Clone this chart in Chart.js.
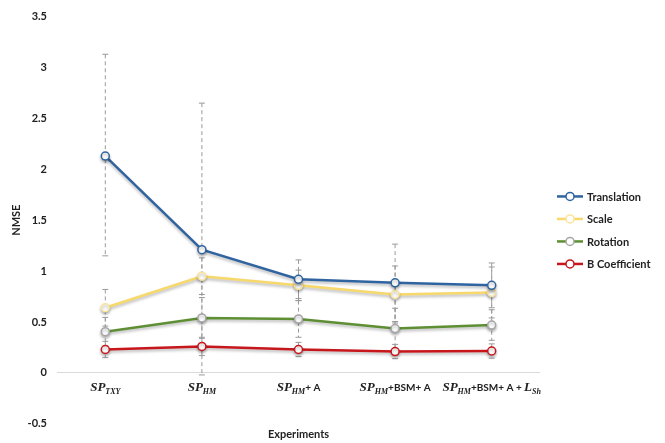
<!DOCTYPE html>
<html>
<head>
<meta charset="utf-8">
<script src="https://cdn.jsdelivr.net/npm/chart.js@4.4.0/dist/chart.umd.min.js"></script>
<style>
  html, body { margin: 0; padding: 0; background: #fff; }
  #wrap { width: 665px; height: 443px; }
</style>
</head>
<body>
<div id="wrap"><canvas id="chart"></canvas></div>
<script>
// categories (plain) and how each label is typeset: [text, kind]
// kind: m = math italic, s = math subscript, t = plain bold text
const categories = ['SP_TXY', 'SP_HM', 'SP_HM+ A', 'SP_HM+BSM+ A', 'SP_HM+BSM+ A + L_Sh'];
const categoryParts = [
    [['SP', 'm'], ['TXY', 's']],
    [['SP', 'm'], ['HM', 's']],
    [['SP', 'm'], ['HM', 's'], ['+ A', 't']],
    [['SP', 'm'], ['HM', 's'], ['+BSM+ A', 't']],
    [['SP', 'm'], ['HM', 's'], ['+BSM+ A + ', 't'], ['L', 'm'], ['Sh', 's']],
];

const translation = [2.13, 1.21, 0.92, 0.885, 0.86];
const translationErrUp = [1.0, 1.44, 0.19, 0.38, 0.22];
const translationErrDown = [0.98, 1.23, 0.19, 0.38, 0.22];

const scale = [0.64, 0.95, 0.86, 0.77, 0.79];
const scaleErr = [0.18, 0.18, 0.15, 0.28, 0.25];

const rotation = [0.405, 0.54, 0.53, 0.435, 0.47];
const rotationErr = [0.14, 0.2, 0.18, 0.2, 0.15];

const bCoeff = [0.23, 0.26, 0.23, 0.21, 0.215];
const bCoeffErr = [0.08, 0.09, 0.07, 0.07, 0.07];

const yTicks = { min: -0.5, max: 3.5, step: 0.5 };

const textColor = '#222';
const labelFont = 'Lato';

function makeSet(label, data, errUp, errDown, color, markerColor) {
    return {
        label: label,
        data: data,
        errUp: errUp,
        errDown: errDown,
        borderColor: color,
        backgroundColor: '#fff',
        borderWidth: 2.5,
        pointRadius: 4,
        pointBorderWidth: 1.5,
        pointBackgroundColor: '#fff',
        pointBorderColor: markerColor,
        tension: 0,
    };
}

const dataContent = {
    labels: categories,
    datasets: [
        makeSet('Translation', translation, translationErrUp, translationErrDown, '#2f64a0', '#2f64a0'),
        makeSet('Scale', scale, scaleErr, scaleErr, '#f7d86b', '#fbe49a'),
        makeSet('Rotation', rotation, rotationErr, rotationErr, '#5e8f34', '#a6a6a6'),
        makeSet('B Coefficient', bCoeff, bCoeffErr, bCoeffErr, '#c8161d', '#c8161d'),
    ]
};

// dashed error bars, drawn under the lines
const errorBars = {
    id: 'errorBars',
    beforeDatasetsDraw(chart) {
        const ctx = chart.ctx;
        const x = chart.scales.x;
        const y = chart.scales.y;
        ctx.save();
        ctx.strokeStyle = '#9a9a9a';
        ctx.lineWidth = 1;
        chart.data.datasets.forEach(ds => {
            ds.data.forEach((v, i) => {
                const px = x.getPixelForValue(i);
                const top = y.getPixelForValue(v + ds.errUp[i]);
                const bot = y.getPixelForValue(v - ds.errDown[i]);
                ctx.setLineDash([4, 3]);
                ctx.beginPath();
                ctx.moveTo(px, top);
                ctx.lineTo(px, bot);
                ctx.stroke();
                ctx.setLineDash([]);
                ctx.beginPath();
                ctx.moveTo(px - 3, top);
                ctx.lineTo(px + 3, top);
                ctx.moveTo(px - 3, bot);
                ctx.lineTo(px + 3, bot);
                ctx.stroke();
            });
        });
        ctx.restore();
    }
};

// soft shadow under each series, like the original
const lineShadow = {
    id: 'lineShadow',
    beforeDatasetDraw(chart) {
        const ctx = chart.ctx;
        ctx.save();
        ctx.shadowColor = 'rgba(0,0,0,0.28)';
        ctx.shadowBlur = 3;
        ctx.shadowOffsetY = 2;
    },
    afterDatasetDraw(chart) {
        chart.ctx.restore();
    }
};

const partFont = {
    m: 'italic bold 13px "Liberation Serif"',
    s: 'italic bold 8px "Liberation Serif"',
    t: 'bold 10px ' + labelFont,
};
const partShift = { m: 0, s: 3, t: 0 };

// category labels with subscripts, and the legend on the right
const extras = {
    id: 'extras',
    afterDraw(chart) {
        const ctx = chart.ctx;
        const x = chart.scales.x;
        const y = chart.scales.y;
        const area = chart.chartArea;
        ctx.save();
        ctx.fillStyle = textColor;
        ctx.textBaseline = 'alphabetic';
        ctx.textAlign = 'left';
        const base = y.getPixelForValue(0) + 18;
        categoryParts.forEach((parts, i) => {
            let w = 0;
            parts.forEach(p => { ctx.font = partFont[p[1]]; w += ctx.measureText(p[0]).width; });
            let cx = x.getPixelForValue(i) - w / 2;
            parts.forEach(p => {
                ctx.font = partFont[p[1]];
                ctx.fillText(p[0], cx, base + partShift[p[1]]);
                cx += ctx.measureText(p[0]).width;
            });
        });

        // legend
        const sets = chart.data.datasets;
        const lx = area.right + 17;
        const rowH = 22.5;
        const y0 = (area.top + area.bottom) / 2 + 10 - rowH * (sets.length - 1) / 2;
        ctx.font = 'bold 11px ' + labelFont;
        ctx.textBaseline = 'middle';
        sets.forEach((ds, i) => {
            const ly = y0 + i * rowH;
            ctx.strokeStyle = ds.borderColor;
            ctx.lineWidth = 2.5;
            ctx.beginPath();
            ctx.moveTo(lx, ly);
            ctx.lineTo(lx + 26, ly);
            ctx.stroke();
            ctx.beginPath();
            ctx.arc(lx + 13, ly, 4, 0, Math.PI * 2);
            ctx.fillStyle = '#fff';
            ctx.fill();
            ctx.lineWidth = 1.5;
            ctx.strokeStyle = ds.pointBorderColor;
            ctx.stroke();
            ctx.fillStyle = textColor;
            ctx.fillText(ds.label, lx + 30, ly + 1);
        });
        ctx.restore();
    }
};

const config = {
    type: 'line',
    data: dataContent,
    options: {
        responsive: true,
        maintainAspectRatio: false,
        animation: false,
        layout: { padding: { left: 6, top: 4, right: 125, bottom: 0 } },
        plugins: {
            legend: { display: false },
            tooltip: { enabled: false },
        },
        scales: {
            x: {
                offset: true,
                grid: { display: false, drawTicks: false },
                border: { display: false },
                ticks: { display: false },
                title: {
                    display: true,
                    text: 'Experiments',
                    color: textColor,
                    font: { family: labelFont, weight: 'bold', size: 11 },
                    padding: { top: 4, bottom: 2 },
                },
            },
            y: {
                min: yTicks.min,
                max: yTicks.max,
                afterFit(s) { s.width = 51; },
                grid: {
                    drawTicks: false,
                    color: ctx => ctx.tick && ctx.tick.value === 0 ? '#d9d9d9' : 'rgba(0,0,0,0)',
                },
                border: { display: false },
                ticks: {
                    stepSize: yTicks.step,
                    padding: 10,
                    color: textColor,
                    font: { family: labelFont, weight: 'bold', size: 11 },
                    callback: v => String(+v.toFixed(1)),
                },
                title: {
                    display: true,
                    text: 'NMSE',
                    color: textColor,
                    font: { family: labelFont, weight: 'bold', size: 11 },
                    padding: { top: 4, bottom: 4 },
                },
            },
        },
    },
    plugins: [errorBars, lineShadow, extras],
};

const chartLine = new Chart(document.getElementById('chart'), config);
</script>
</body>
</html>
